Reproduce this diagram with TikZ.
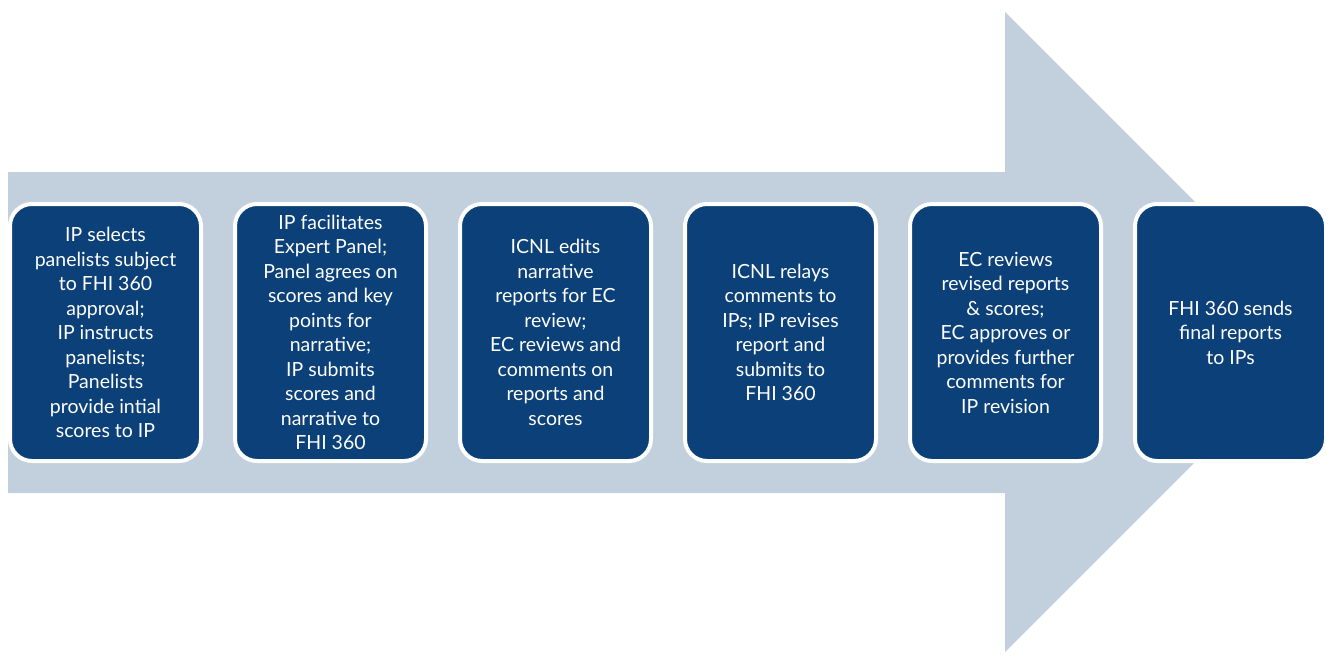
\documentclass[tikz,border=0pt]{standalone}
\usepackage{fontspec}
\setmainfont{Lato}
\usepackage{tikz}
\definecolor{PanelBlue}{HTML}{0B4078}
\definecolor{ArrowGray}{HTML}{C2D0DD}
\tikzset{
  paso/.style  = {draw=white, line width=4pt, rounded corners=22pt,
                  fill=PanelBlue, text=white, align=center,
                  font=\fontsize{19.5}{24.5}\selectfont,
                  minimum width=191pt, minimum height=257pt, inner sep=2pt},
  flecha/.style = {fill=ArrowGray, draw=none},
}
\begin{document}
\begin{tikzpicture}[x=1pt,y=-1pt]
  \useasboundingbox (0,0) rectangle (1326,656);
  % big arrow behind the steps
  \fill[flecha] (8,172) -- (1005,172) -- (1005,12) -- (1325,332)
    -- (1005,652) -- (1005,493) -- (8,493) -- cycle;
  \node[paso] (p1) at (105.5,332.5) {IP selects\\panelists subject\\to FHI 360\\approval;\\IP instructs\\panelists;\\Panelists\\provide intial\\scores to IP};
  \node[paso] (p2) at (330.5,332.5) {IP facilitates\\Expert Panel;\\Panel agrees on\\scores and key\\points for\\narrative;\\IP submits\\scores and\\narrative to\\FHI 360};
  \node[paso] (p3) at (555.5,332.5) {ICNL edits\\narrative\\reports for EC\\review;\\EC reviews and\\comments on\\reports and\\scores};
  \node[paso] (p4) at (780.5,332.5) {ICNL relays\\comments to\\IPs; IP revises\\report and\\submits to\\FHI 360};
  \node[paso] (p5) at (1005.5,332.5) {EC reviews\\revised reports\\\& scores;\\EC approves or\\provides further\\comments for\\IP revision};
  \node[paso] (p6) at (1230.5,332.5) {FHI 360 sends\\final reports\\to IPs};
\end{tikzpicture}
\end{document}
